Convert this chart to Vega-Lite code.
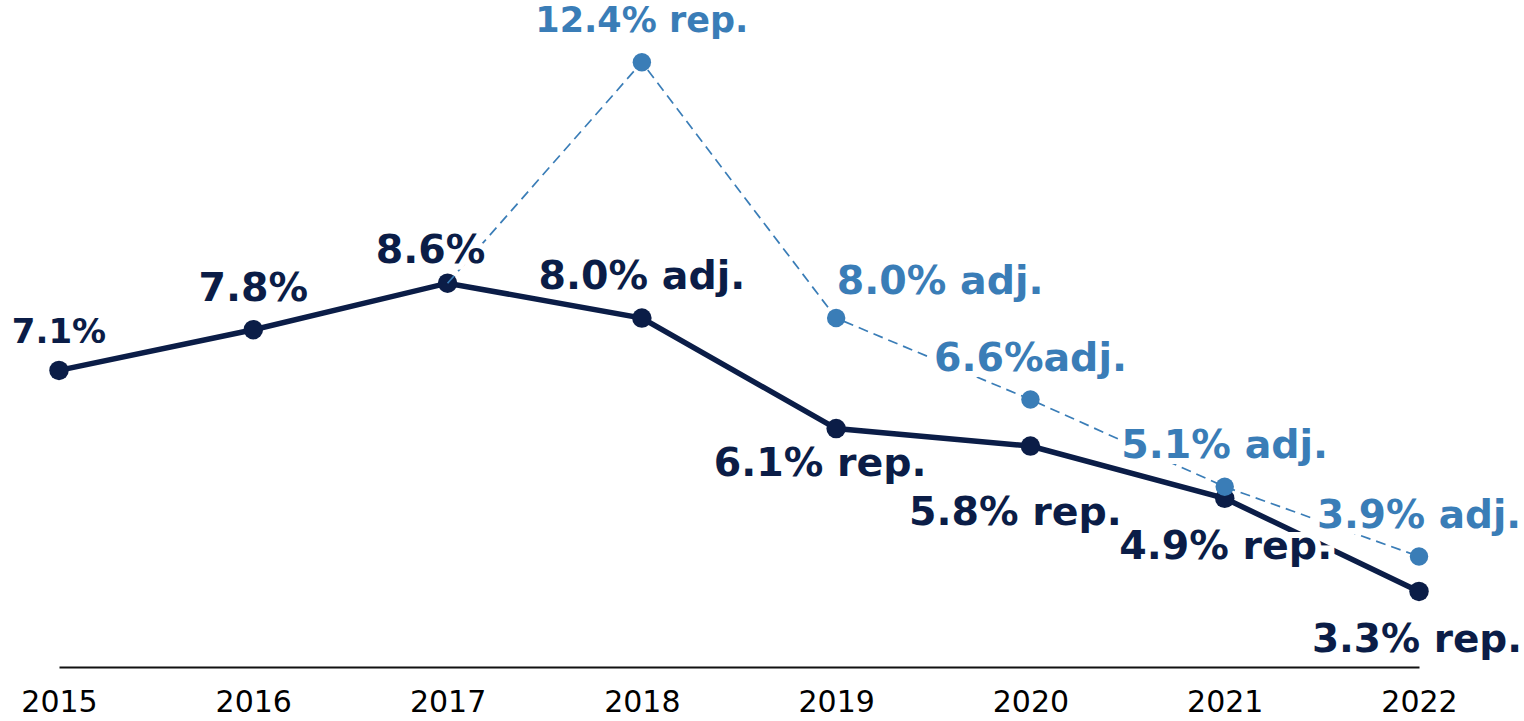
{
  "$schema": "https://vega.github.io/schema/vega-lite/v6.json",
  "width": 1360,
  "height": 667,
  "autosize": {"type": "none"},
  "padding": {"left": 59, "top": 0, "right": 105, "bottom": 54},
  "background": "white",
  "config": {"view": {"stroke": null}, "font": "DejaVu Sans"},
  "data": {
    "values": [
      {"year": "2015", "series": "main", "value": 7.1, "label": "7.1%"},
      {"year": "2016", "series": "main", "value": 7.8, "label": "7.8%"},
      {"year": "2017", "series": "main", "value": 8.6, "label": "8.6%"},
      {"year": "2018", "series": "main", "value": 8.0, "label": "8.0% adj."},
      {"year": "2019", "series": "main", "value": 6.1, "label": "6.1% rep."},
      {"year": "2020", "series": "main", "value": 5.8, "label": "5.8% rep."},
      {"year": "2021", "series": "main", "value": 4.9, "label": "4.9% rep."},
      {"year": "2022", "series": "main", "value": 3.3, "label": "3.3% rep."},
      {"year": "2017", "series": "alt", "value": 8.6, "label": null},
      {"year": "2018", "series": "alt", "value": 12.4, "label": "12.4% rep."},
      {"year": "2019", "series": "alt", "value": 8.0, "label": "8.0% adj."},
      {"year": "2020", "series": "alt", "value": 6.6, "label": "6.6%adj."},
      {"year": "2021", "series": "alt", "value": 5.1, "label": "5.1% adj."},
      {"year": "2022", "series": "alt", "value": 3.9, "label": "3.9% adj."}
    ]
  },
  "encoding": {
    "x": {
      "field": "year",
      "type": "ordinal",
      "scale": {"type": "point", "padding": 0},
      "axis": {
        "title": null,
        "labelAngle": 0,
        "ticks": false,
        "grid": false,
        "domainColor": "#111111",
        "domainWidth": 2,
        "labelFontSize": 30,
        "labelColor": "#000000",
        "labelFont": "DejaVu Sans",
        "labelPadding": 20
      }
    },
    "y": {
      "field": "value",
      "type": "quantitative",
      "scale": {"domain": [2, 13.47], "nice": false, "zero": false},
      "axis": null
    }
  },
  "layer": [
    {
      "transform": [{"filter": "datum.series === 'main'"}],
      "mark": {"type": "line", "color": "#0B1D47", "strokeWidth": 5.5}
    },
    {
      "transform": [{"filter": "datum.series === 'main'"}],
      "mark": {"type": "circle", "color": "#0B1D47", "opacity": 1, "size": 380}
    },
    {
      "transform": [{"filter": "datum.series === 'alt'"}],
      "mark": {"type": "line", "color": "#3A7DB7", "strokeWidth": 1.7, "strokeDash": [10, 6]}
    },
    {
      "transform": [{"filter": "datum.series === 'alt' && datum.label != null"}],
      "mark": {"type": "circle", "color": "#3A7DB7", "opacity": 1, "size": 340}
    },
    {
      "transform": [{"filter": "datum.series === 'alt' && datum.year === '2018'"}],
      "encoding": {"text": {"field": "label"}},
      "layer": [
        {"mark": {"type": "text", "fontWeight": "bold", "fontSize": 35, "dy": -41, "baseline": "middle", "stroke": "white", "strokeWidth": 12, "fill": "white"}},
        {"mark": {"type": "text", "fontWeight": "bold", "fontSize": 35, "dy": -41, "baseline": "middle", "fill": "#3A7DB7"}}
      ]
    },
    {
      "transform": [{"filter": "datum.series === 'alt' && datum.year === '2019'"}],
      "encoding": {"text": {"field": "label"}},
      "layer": [
        {"mark": {"type": "text", "fontWeight": "bold", "fontSize": 39.5, "dx": 104, "dy": -36, "baseline": "middle", "stroke": "white", "strokeWidth": 12, "fill": "white"}},
        {"mark": {"type": "text", "fontWeight": "bold", "fontSize": 39.5, "dx": 104, "dy": -36, "baseline": "middle", "fill": "#3A7DB7"}}
      ]
    },
    {
      "transform": [{"filter": "datum.series === 'alt' && (datum.year === '2020' || datum.year === '2021')"}],
      "encoding": {"text": {"field": "label"}},
      "layer": [
        {"mark": {"type": "text", "fontWeight": "bold", "fontSize": 39.5, "dy": -41, "baseline": "middle", "stroke": "white", "strokeWidth": 12, "fill": "white"}},
        {"mark": {"type": "text", "fontWeight": "bold", "fontSize": 39.5, "dy": -41, "baseline": "middle", "fill": "#3A7DB7"}}
      ]
    },
    {
      "transform": [{"filter": "datum.series === 'alt' && datum.year === '2022'"}],
      "encoding": {"text": {"field": "label"}},
      "layer": [
        {"mark": {"type": "text", "fontWeight": "bold", "fontSize": 39, "dy": -41, "baseline": "middle", "stroke": "white", "strokeWidth": 12, "fill": "white"}},
        {"mark": {"type": "text", "fontWeight": "bold", "fontSize": 39, "dy": -41, "baseline": "middle", "fill": "#3A7DB7"}}
      ]
    },
    {
      "transform": [{"filter": "datum.series === 'main' && datum.year === '2015'"}],
      "encoding": {"text": {"field": "label"}},
      "layer": [
        {"mark": {"type": "text", "fontWeight": "bold", "fontSize": 34, "dy": -37, "baseline": "middle", "stroke": "white", "strokeWidth": 12, "fill": "white"}},
        {"mark": {"type": "text", "fontWeight": "bold", "fontSize": 34, "dy": -37, "baseline": "middle", "fill": "#0B1D47"}}
      ]
    },
    {
      "transform": [{"filter": "datum.series === 'main' && (datum.year === '2016' || datum.year === '2018')"}],
      "encoding": {"text": {"field": "label"}},
      "layer": [
        {"mark": {"type": "text", "fontWeight": "bold", "fontSize": 39.5, "dy": -41, "baseline": "middle", "stroke": "white", "strokeWidth": 12, "fill": "white"}},
        {"mark": {"type": "text", "fontWeight": "bold", "fontSize": 39.5, "dy": -41, "baseline": "middle", "fill": "#0B1D47"}}
      ]
    },
    {
      "transform": [{"filter": "datum.series === 'main' && datum.year === '2017'"}],
      "encoding": {"text": {"field": "label"}},
      "layer": [
        {"mark": {"type": "text", "fontWeight": "bold", "fontSize": 39.5, "dx": -17, "dy": -32, "baseline": "middle", "stroke": "white", "strokeWidth": 12, "fill": "white"}},
        {"mark": {"type": "text", "fontWeight": "bold", "fontSize": 39.5, "dx": -17, "dy": -32, "baseline": "middle", "fill": "#0B1D47"}}
      ]
    },
    {
      "transform": [{"filter": "datum.series === 'main' && datum.year === '2019'"}],
      "encoding": {"text": {"field": "label"}},
      "layer": [
        {"mark": {"type": "text", "fontWeight": "bold", "fontSize": 39.5, "dx": -16, "dy": 35, "baseline": "middle", "stroke": "white", "strokeWidth": 12, "fill": "white"}},
        {"mark": {"type": "text", "fontWeight": "bold", "fontSize": 39.5, "dx": -16, "dy": 35, "baseline": "middle", "fill": "#0B1D47"}}
      ]
    },
    {
      "transform": [{"filter": "datum.series === 'main' && datum.year === '2020'"}],
      "encoding": {"text": {"field": "label"}},
      "layer": [
        {"mark": {"type": "text", "fontWeight": "bold", "fontSize": 39.5, "dx": -15, "dy": 67, "baseline": "middle", "stroke": "white", "strokeWidth": 12, "fill": "white"}},
        {"mark": {"type": "text", "fontWeight": "bold", "fontSize": 39.5, "dx": -15, "dy": 67, "baseline": "middle", "fill": "#0B1D47"}}
      ]
    },
    {
      "transform": [{"filter": "datum.series === 'main' && datum.year === '2021'"}],
      "encoding": {"text": {"field": "label"}},
      "layer": [
        {"mark": {"type": "text", "fontWeight": "bold", "fontSize": 39.5, "dx": 1, "dy": 49, "baseline": "middle", "stroke": "white", "strokeWidth": 12, "fill": "white"}},
        {"mark": {"type": "text", "fontWeight": "bold", "fontSize": 39.5, "dx": 1, "dy": 49, "baseline": "middle", "fill": "#0B1D47"}}
      ]
    },
    {
      "transform": [{"filter": "datum.series === 'main' && datum.year === '2022'"}],
      "encoding": {"text": {"field": "label"}},
      "layer": [
        {"mark": {"type": "text", "fontWeight": "bold", "fontSize": 39, "dx": -2, "dy": 49, "baseline": "middle", "stroke": "white", "strokeWidth": 12, "fill": "white"}},
        {"mark": {"type": "text", "fontWeight": "bold", "fontSize": 39, "dx": -2, "dy": 49, "baseline": "middle", "fill": "#0B1D47"}}
      ]
    }
  ]
}
